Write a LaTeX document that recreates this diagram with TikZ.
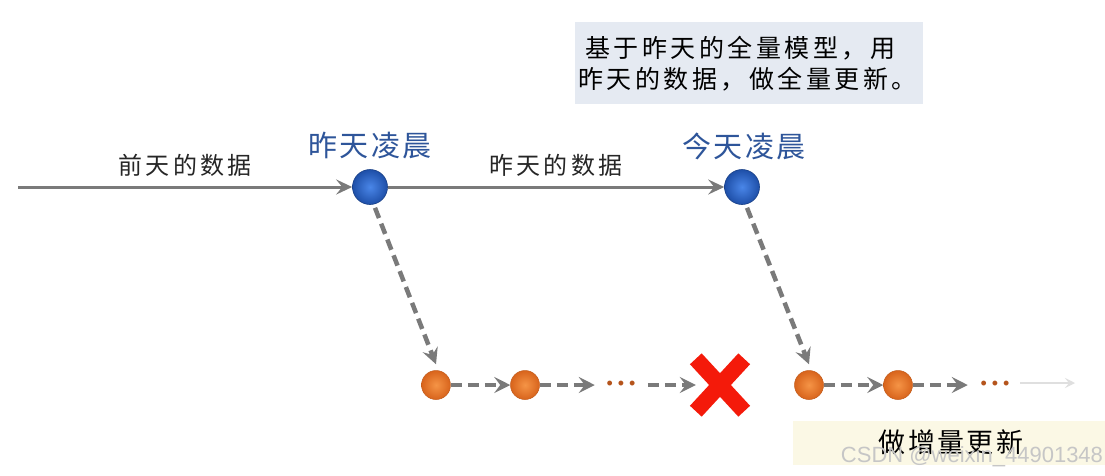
\documentclass[tikz,border=0pt]{standalone}
\usepackage{fontspec}
\setmainfont{Liberation Sans}
\newfontfamily\cjk{Noto Sans CJK SC}
\newfontfamily\cjkwide[LetterSpace=14]{Noto Sans CJK SC}
\newfontfamily\cjkmid[LetterSpace=9]{Noto Sans CJK SC}
\usetikzlibrary{arrows.meta}
\definecolor{arrowgray}{HTML}{7A7A7A}
\definecolor{bluein}{HTML}{4A86E8}
\definecolor{blueout}{HTML}{1E4FA8}
\definecolor{labelblue}{HTML}{2E559A}
\definecolor{orangein}{HTML}{F59446}
\definecolor{orangeout}{HTML}{D8641C}
\definecolor{dotorange}{HTML}{B5541C}
\definecolor{boxblue}{HTML}{E5EAF2}
\definecolor{boxbeige}{HTML}{FBF8E5}
\definecolor{xred}{HTML}{F41A0A}
\tikzset{
  solidarrow/.style={draw=arrowgray, line width=3pt, -{Stealth[length=16pt,width=15pt,inset=6pt]}},
  dasharrow/.style={draw=arrowgray, line width=4.5pt, dash pattern=on 11pt off 6pt, -{Stealth[length=16pt,width=16pt,inset=6pt]}},
  blueball/.style={circle, inner sep=0pt, minimum size=35pt, inner color=bluein, outer color=blueout, draw=blueout!80!black, line width=0.6pt},
  orangeball/.style={circle, inner sep=0pt, minimum size=29pt, inner color=orangein, outer color=orangeout, draw=orangeout!90!black, line width=0.5pt},
  bluelabel/.style={text=labelblue, font=\cjkmid\fontsize{29}{34}\selectfont},
  datalabel/.style={text=black!85, font=\cjkwide\fontsize{24}{30}\selectfont},
  dotsnode/.style={text=dotorange, font=\fontsize{18}{18}\selectfont, inner sep=0pt},
  crossnode/.style={minimum width=48pt, minimum height=52pt, inner sep=0pt},
}
\begin{document}
\begin{tikzpicture}[x=1pt,y=-1pt]
\useasboundingbox[fill=white] (0,0) rectangle (1105,475);
% top note box
\node[fill=boxblue, minimum width=348pt, minimum height=82pt, inner sep=0pt] (note) at (749,63) {};
\node[font=\cjkwide\fontsize{25}{30}\selectfont, text=black, align=left, inner sep=0pt, anchor=west] (noteA) at (585,48) {基于昨天的全量模型，用};
\node[font=\cjkwide\fontsize{25}{30}\selectfont, text=black, align=left, inner sep=0pt, anchor=west] (noteB) at (578,79) {昨天的数据，做全量更新。};
% bottom box
\node[fill=boxbeige, minimum width=312pt, minimum height=44pt, inner sep=0pt] (inc) at (949,443) {};
\node[font=\cjkmid\fontsize{27}{30}\selectfont, text=black, inner sep=0pt] (incT) at (951,442) {做增量更新};
% watermark
\node[text=gray!45, font=\fontsize{22}{22}\selectfont, inner sep=0pt] (wm) at (972,457) {CSDN @weixin\_44901348};
% timeline
\coordinate (start) at (18,187);
\node[blueball] (n1) at (370,187) {};
\node[blueball] (n2) at (742,187) {};
\node[bluelabel] (l1) at (370,146) {昨天凌晨};
\node[bluelabel] (l2) at (744,146) {今天凌晨};
\draw[solidarrow] (start) -- (n1.west) node[midway, above=6pt, datalabel] (d1) {前天的数据};
\draw[solidarrow] (n1.east) -- (n2.west) node[midway, above=6pt, datalabel] (d2) {昨天的数据};
% lower chains
\node[orangeball] (o1) at (436,385) {};
\node[orangeball] (o2) at (525,385) {};
\node[dotsnode] (dots1) at (621,385) {\textbullet\hspace{5pt}\textbullet\hspace{5pt}\textbullet};
\node[crossnode] (cx) at (720,385) {};
\draw[xred, line width=16pt] (cx.north west) -- (cx.south east);
\draw[xred, line width=16pt] (cx.north east) -- (cx.south west);
\node[orangeball] (o3) at (809,385) {};
\node[orangeball] (o4) at (898,385) {};
\node[dotsnode] (dots2) at (995,385) {\textbullet\hspace{5pt}\textbullet\hspace{5pt}\textbullet};
\coordinate (fa) at (1020,383);
\coordinate (fb) at (1075,383);
\draw[gray!25, line width=1.5pt, -{Stealth[length=10pt,width=10pt,inset=4pt]}] (fa) -- (fb);
\draw[dasharrow] ([xshift=5pt,yshift=-3pt]n1.south) -- ([yshift=6pt]o1.north);
\draw[dasharrow] ([xshift=5pt,yshift=-3pt]n2.south) -- ([yshift=6pt]o3.north);
\draw[dasharrow] (o1.east) -- (o2.west);
\draw[dasharrow] (o2.east) -- ++(55,0);
\draw[dasharrow] ([xshift=-48pt]cx.west) -- (cx.west);
\draw[dasharrow] (o3.east) -- (o4.west);
\draw[dasharrow] (o4.east) -- ++(55,0);
\end{tikzpicture}
\end{document}
